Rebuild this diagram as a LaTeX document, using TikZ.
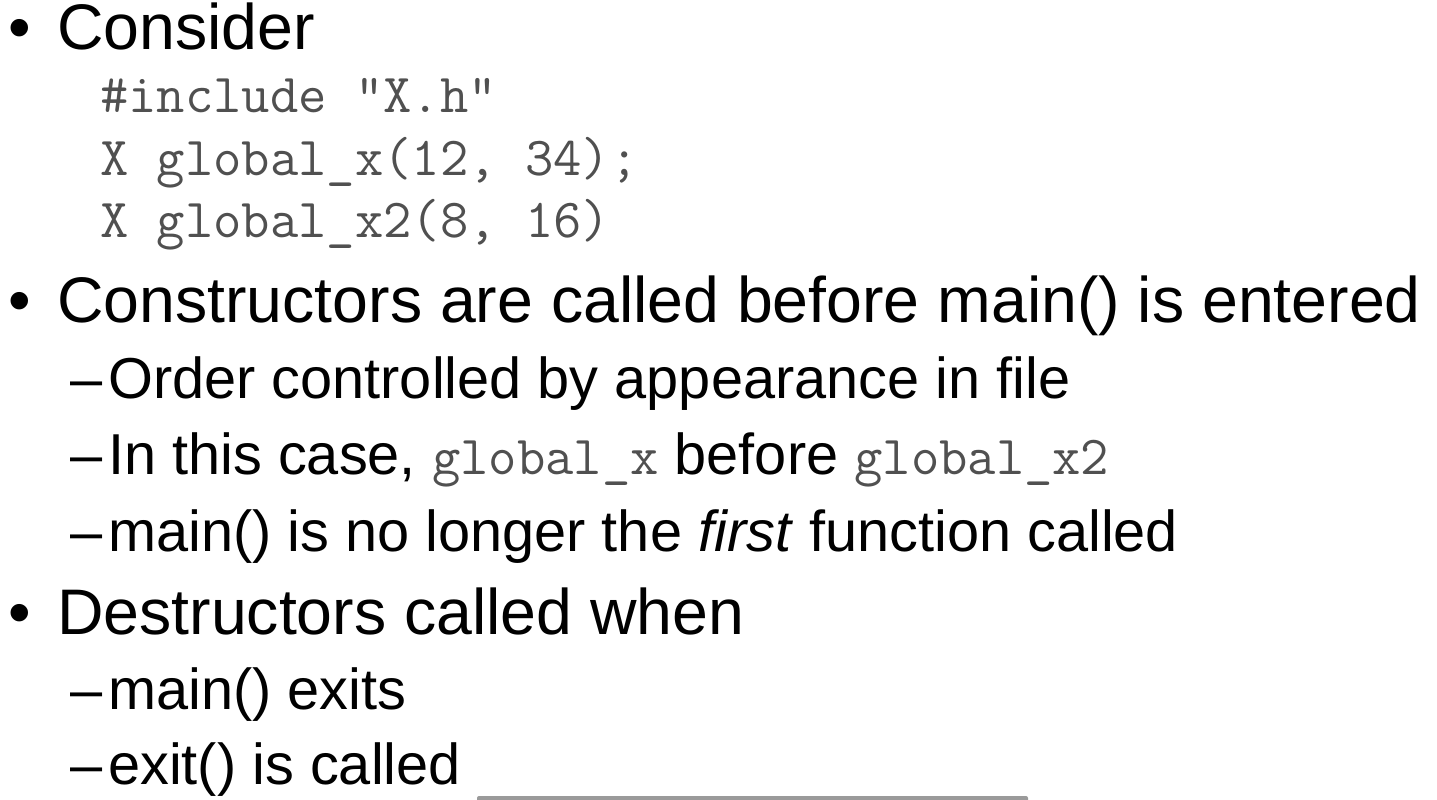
\documentclass[tikz,border=0pt]{standalone}
\usepackage{fontspec}
\setmainfont{Liberation Sans}
\definecolor{codegray}{HTML}{505050}
\definecolor{bargray}{HTML}{9A9A9A}
\def\cd#1{{\ttfamily\fontsize{55}{55}\selectfont\color{codegray}#1}}

\begin{document}
\begin{tikzpicture}[x=1pt,y=-1pt,
    every node/.style={inner sep=0pt,anchor=base west},
    lvlone/.style={font=\fontsize{64.4}{64.4}\selectfont},
    lvltwo/.style={font=\fontsize{57.7}{57.7}\selectfont},
    codeline/.style={font=\ttfamily\fontsize{55}{55}\selectfont,text=codegray}]
\useasboundingbox (0,0) rectangle (1437,800);

% first bullet
\node [lvlone] (bA) at (8,50) {•};
\node [lvlone] (consider) at (57,50) {Consider};
\node [codeline] (inc) at (100,112) {\#include "X.h"};
\node [codeline] (gx) at (100,175) {X global\_x(12, 34);};
\node [codeline] (gxtwo) at (100,237) {X global\_x2(8, 16)};

% second bullet
\node [lvlone] (bB) at (8,322) {•};
\node [lvlone] (ctor) at (57,322) {Constructors are called before main() is entered};
\node [lvltwo] (dA) at (70,398) {–};
\node [lvltwo] (order) at (108,398) {Order controlled by appearance in file};
\node [lvltwo] (dB) at (70,474) {–};
\node [lvltwo] (case) at (108,474) {In this case, \cd{global\_x} before \cd{global\_x2}};
\node [lvltwo] (dC) at (70,551) {–};
\node [lvltwo] (first) at (108,551) {main() is no longer the \emph{first} function called};

% third bullet
\node [lvlone] (bC) at (8,634) {•};
\node [lvlone] (dtor) at (57,634) {Destructors called when};
\node [lvltwo] (dD) at (70,709) {–};
\node [lvltwo] (exits) at (108,709) {main() exits};
\node [lvltwo] (dE) at (70,784) {–};
\node [lvltwo] (called) at (108,784) {exit() is called};

%\draw bar at the bottom edge
\fill [bargray, rounded corners=2pt] (477,796) rectangle (1028,810);
\end{tikzpicture}
\end{document}
